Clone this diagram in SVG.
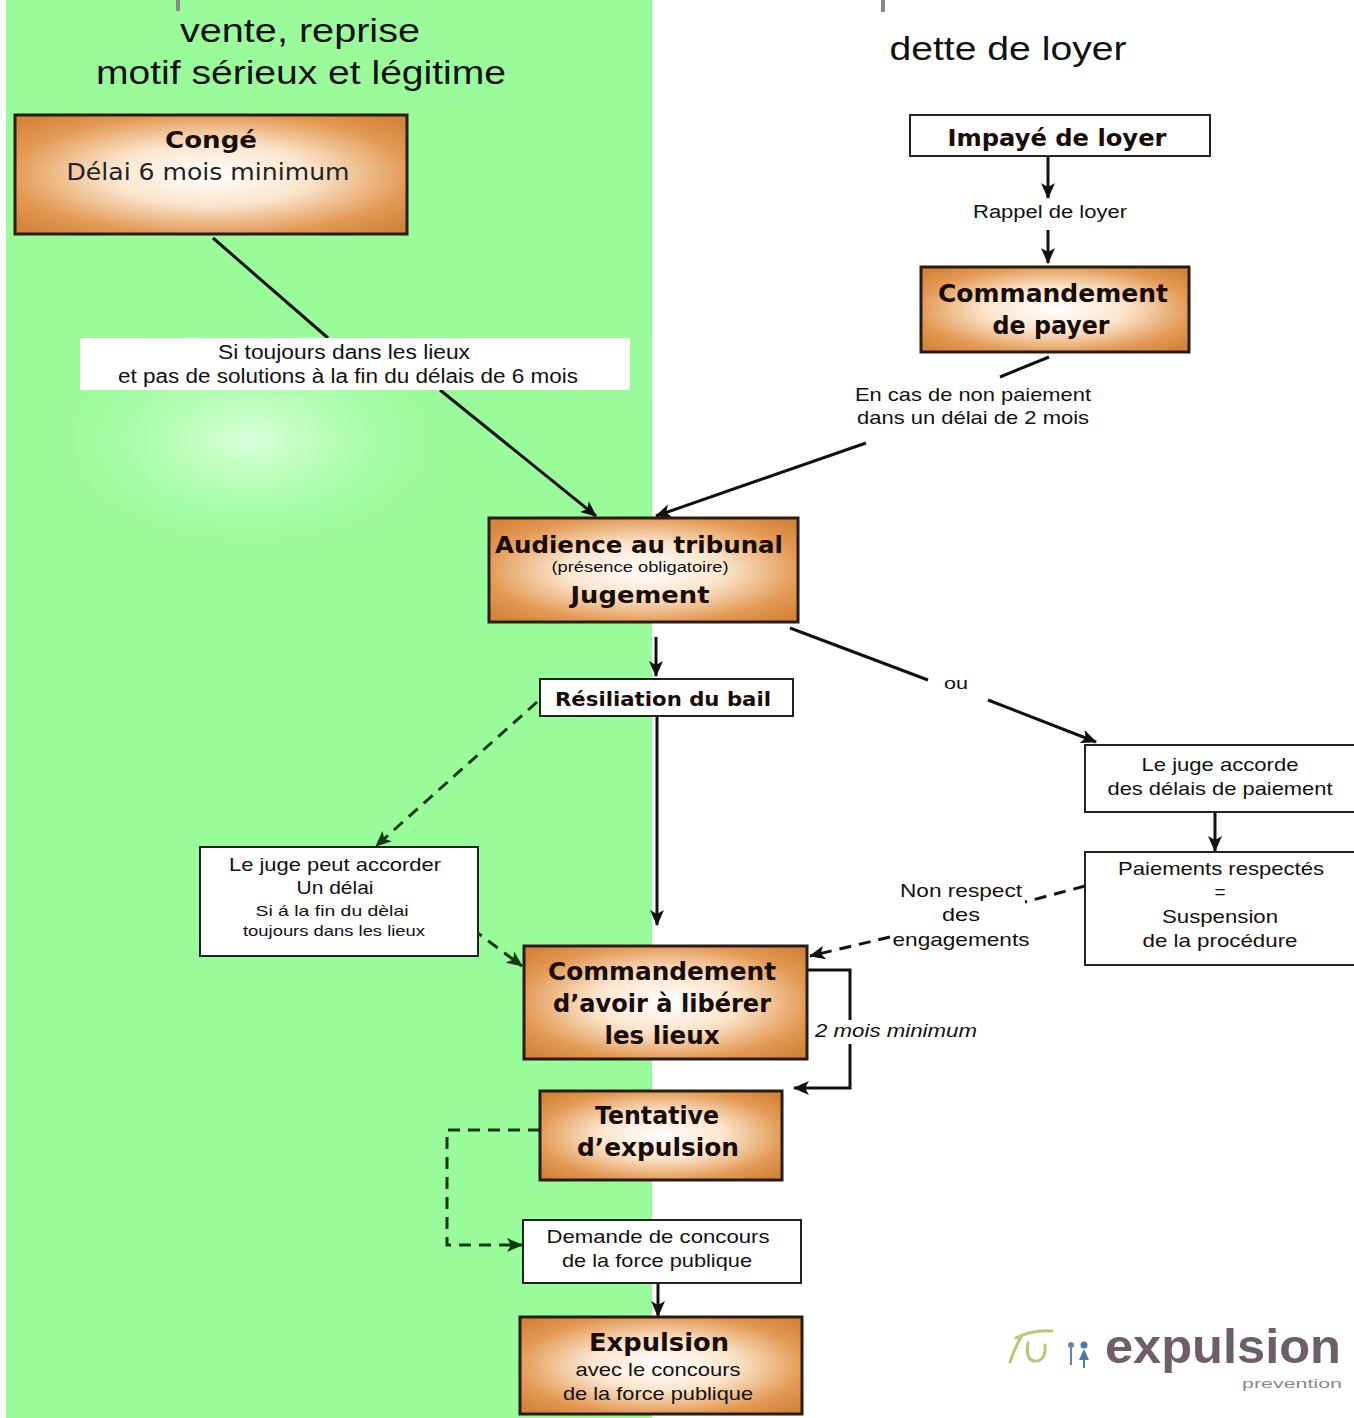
<svg xmlns="http://www.w3.org/2000/svg" width="1354" height="1418" viewBox="0 0 1354 1418">
<defs>
<radialGradient id="og" cx="50%" cy="50%" r="65%">
<stop offset="0" stop-color="#ffffff"/>
<stop offset="0.4" stop-color="#fbe4cc"/>
<stop offset="0.78" stop-color="#e39a55"/>
<stop offset="1" stop-color="#d4843a"/>
</radialGradient>
<radialGradient id="glow" cx="50%" cy="50%" r="50%">
<stop offset="0" stop-color="#dcffdc"/>
<stop offset="1" stop-color="#9afb9a" stop-opacity="0"/>
</radialGradient>
<marker id="ah" markerUnits="userSpaceOnUse" markerWidth="16" markerHeight="14" refX="15" refY="7" orient="auto">
<path d="M0,0 L16,7 L0,14 L4,7 Z" fill="#111"/>
</marker>
<marker id="ahg" markerUnits="userSpaceOnUse" markerWidth="16" markerHeight="14" refX="15" refY="7" orient="auto">
<path d="M0,0 L16,7 L0,14 L4,7 Z" fill="#123a12"/>
</marker>
<style>
.ob{fill:url(#og);stroke:#2a1c10;stroke-width:3}
.wb{fill:#fff;stroke:#222;stroke-width:2}
.bt{font-family:"DejaVu Sans",Verdana,sans-serif;font-weight:bold;fill:#1a0d08;text-anchor:middle}
.rt{font-family:"Liberation Sans",Arial,sans-serif;fill:#111;text-anchor:middle}
.vt{font-family:"DejaVu Sans",Verdana,sans-serif;fill:#222;text-anchor:middle}
.ln{fill:none;stroke:#111;stroke-width:3}
.dg{fill:none;stroke:#123a12;stroke-width:3;stroke-dasharray:12 8}
.dk{fill:none;stroke:#111;stroke-width:3;stroke-dasharray:12 8}
</style>
</defs>

<g id="background">
<rect x="0" y="0" width="1354" height="1418" fill="#fff"/>
<rect x="6" y="0" width="646" height="1418" fill="#9afb9a"/>
<ellipse cx="250" cy="440" rx="230" ry="130" fill="url(#glow)"/>
<rect x="176" y="0" width="4" height="11" fill="#888"/>
<rect x="881" y="0" width="4" height="12" fill="#888"/>
</g>

<g id="headers">
<text class="rt" x="300" y="42" font-size="34" textLength="240" lengthAdjust="spacingAndGlyphs">vente, reprise</text>
<text class="rt" x="301" y="84" font-size="34" textLength="410" lengthAdjust="spacingAndGlyphs">motif sérieux et légitime</text>
<text class="rt" x="1008" y="60" font-size="34" textLength="237" lengthAdjust="spacingAndGlyphs">dette de loyer</text>
</g>

<g id="connectors">
<line class="ln" x1="213" y1="238" x2="328" y2="338"/>
<line class="ln" x1="440" y1="390" x2="596" y2="516" marker-end="url(#ah)"/>
<line class="ln" x1="1048" y1="156" x2="1048" y2="198" marker-end="url(#ah)"/>
<line class="ln" x1="1048" y1="230" x2="1048" y2="263" marker-end="url(#ah)"/>
<line class="ln" x1="1049" y1="357" x2="1000" y2="377"/>
<line class="ln" x1="866" y1="443" x2="656" y2="516" marker-end="url(#ah)"/>
<line class="ln" x1="656" y1="637" x2="656" y2="676" marker-end="url(#ah)"/>
<line class="ln" x1="790" y1="628" x2="928" y2="680"/>
<line class="ln" x1="988" y1="700" x2="1096" y2="742" marker-end="url(#ah)"/>
<line class="ln" x1="1215" y1="812" x2="1215" y2="851" marker-end="url(#ah)"/>
<line class="dg" x1="537" y1="702" x2="376" y2="846" marker-end="url(#ahg)"/>
<line class="ln" x1="657" y1="716" x2="657" y2="925" marker-end="url(#ah)"/>
<line class="dg" x1="440" y1="905" x2="522" y2="966" marker-end="url(#ahg)"/>
<line class="dk" x1="1085" y1="886" x2="1025" y2="902"/>
<line class="dk" x1="890" y1="937" x2="810" y2="956" marker-end="url(#ah)"/>
<polyline class="ln" points="808,970 850,970 850,1088 794,1088" marker-end="url(#ah)"/>
<polyline class="dg" points="540,1130 447,1130 447,1245 522,1245" marker-end="url(#ahg)"/>
<line class="ln" x1="658" y1="1283" x2="658" y2="1316" marker-end="url(#ah)"/>
</g>

<g id="conge">
<rect class="ob" x="15" y="115" width="392" height="119"/>
<text class="bt" x="211" y="148" font-size="23" textLength="92" lengthAdjust="spacingAndGlyphs">Congé</text>
<text class="vt" x="208" y="180" font-size="23" textLength="283" lengthAdjust="spacingAndGlyphs">Délai 6 mois minimum</text>
</g>

<g id="label-6mois">
<rect x="80" y="338" width="550" height="52" fill="#fff"/>
<text class="rt" x="344" y="359" font-size="20" textLength="252" lengthAdjust="spacingAndGlyphs">Si toujours dans les lieux</text>
<text class="rt" x="348" y="383" font-size="20" textLength="460" lengthAdjust="spacingAndGlyphs">et pas de solutions à la fin du délais de 6 mois</text>
</g>

<g id="impaye">
<rect class="wb" x="910" y="115" width="300" height="41"/>
<text class="bt" x="1057" y="146" font-size="23" textLength="219" lengthAdjust="spacingAndGlyphs">Impayé de loyer</text>
</g>

<g id="rappel">
<text class="rt" x="1050" y="218" font-size="18" textLength="154" lengthAdjust="spacingAndGlyphs">Rappel de loyer</text>
</g>

<g id="cmd-payer">
<rect class="ob" x="921" y="267" width="268" height="85"/>
<text class="bt" x="1053" y="302" font-size="24" textLength="230" lengthAdjust="spacingAndGlyphs">Commandement</text>
<text class="bt" x="1051" y="334" font-size="24" textLength="117" lengthAdjust="spacingAndGlyphs">de payer</text>
</g>

<g id="label-2mois">
<text class="rt" x="973" y="401" font-size="19" textLength="236" lengthAdjust="spacingAndGlyphs">En cas de non paiement</text>
<text class="rt" x="973" y="424" font-size="19" textLength="232" lengthAdjust="spacingAndGlyphs">dans un délai de 2 mois</text>
</g>

<g id="audience">
<rect class="ob" x="489" y="518" width="309" height="104"/>
<text class="bt" x="639" y="553" font-size="23" textLength="288" lengthAdjust="spacingAndGlyphs">Audience au tribunal</text>
<text class="rt" x="640" y="572" font-size="14" textLength="177" lengthAdjust="spacingAndGlyphs">(présence obligatoire)</text>
<text class="bt" x="640" y="603" font-size="23" textLength="139" lengthAdjust="spacingAndGlyphs">Jugement</text>
</g>

<g id="resiliation">
<rect class="wb" x="540" y="679" width="253" height="37"/>
<text class="bt" x="663" y="706" font-size="20" textLength="216" lengthAdjust="spacingAndGlyphs">Résiliation du bail</text>
</g>

<g id="ou">
<text class="rt" x="956" y="689" font-size="17" textLength="24" lengthAdjust="spacingAndGlyphs">ou</text>
</g>

<g id="juge-accorde">
<rect class="wb" x="1085" y="745" width="272" height="67"/>
<text class="rt" x="1220" y="771" font-size="19" textLength="157" lengthAdjust="spacingAndGlyphs">Le juge accorde</text>
<text class="rt" x="1220" y="795" font-size="19" textLength="225" lengthAdjust="spacingAndGlyphs">des délais de paiement</text>
</g>

<g id="paiements">
<rect class="wb" x="1085" y="852" width="272" height="113"/>
<text class="rt" x="1221" y="875" font-size="19" textLength="206" lengthAdjust="spacingAndGlyphs">Paiements respectés</text>
<text class="rt" x="1220" y="898" font-size="19">=</text>
<text class="rt" x="1220" y="923" font-size="19" textLength="116" lengthAdjust="spacingAndGlyphs">Suspension</text>
<text class="rt" x="1220" y="947" font-size="19" textLength="155" lengthAdjust="spacingAndGlyphs">de la procédure</text>
</g>

<g id="non-respect">
<text class="rt" x="961" y="897" font-size="19" textLength="122" lengthAdjust="spacingAndGlyphs">Non respect</text>
<text class="rt" x="961" y="921" font-size="19" textLength="38" lengthAdjust="spacingAndGlyphs">des</text>
<text class="rt" x="961" y="946" font-size="19" textLength="137" lengthAdjust="spacingAndGlyphs">engagements</text>
</g>

<g id="juge-peut">
<rect class="wb" x="200" y="847" width="278" height="109"/>
<text class="rt" x="335" y="871" font-size="19" textLength="212" lengthAdjust="spacingAndGlyphs">Le juge peut accorder</text>
<text class="rt" x="335" y="894" font-size="19" textLength="77" lengthAdjust="spacingAndGlyphs">Un délai</text>
<text class="rt" x="332" y="916" font-size="15" textLength="153" lengthAdjust="spacingAndGlyphs">Si á la fin du dèlai</text>
<text class="rt" x="334" y="936" font-size="15" textLength="182" lengthAdjust="spacingAndGlyphs">toujours dans les lieux</text>
</g>

<g id="cmd-liberer">
<rect class="ob" x="524" y="946" width="283" height="113"/>
<text class="bt" x="662" y="980" font-size="24" textLength="228" lengthAdjust="spacingAndGlyphs">Commandement</text>
<text class="bt" x="662" y="1012" font-size="24" textLength="218" lengthAdjust="spacingAndGlyphs">d’avoir à libérer</text>
<text class="bt" x="662" y="1044" font-size="24" textLength="115" lengthAdjust="spacingAndGlyphs">les lieux</text>
</g>

<g id="label-2mois-min">
<rect x="812" y="1020" width="168" height="24" fill="#fff"/>
<text class="rt" x="896" y="1037" font-size="18" font-style="italic" textLength="162" lengthAdjust="spacingAndGlyphs">2 mois minimum</text>
</g>

<g id="tentative">
<rect class="ob" x="540" y="1091" width="242" height="89"/>
<text class="bt" x="657" y="1124" font-size="24" textLength="124" lengthAdjust="spacingAndGlyphs">Tentative</text>
<text class="bt" x="658" y="1156" font-size="24" textLength="162" lengthAdjust="spacingAndGlyphs">d’expulsion</text>
</g>

<g id="demande">
<rect class="wb" x="523" y="1220" width="278" height="63"/>
<text class="rt" x="658" y="1243" font-size="19" textLength="223" lengthAdjust="spacingAndGlyphs">Demande de concours</text>
<text class="rt" x="657" y="1267" font-size="19" textLength="190" lengthAdjust="spacingAndGlyphs">de la force publique</text>
</g>

<g id="expulsion">
<rect class="ob" x="520" y="1317" width="282" height="97"/>
<text class="bt" x="659" y="1351" font-size="24" textLength="140" lengthAdjust="spacingAndGlyphs">Expulsion</text>
<text class="rt" x="658" y="1376" font-size="19" textLength="165" lengthAdjust="spacingAndGlyphs">avec le concours</text>
<text class="rt" x="658" y="1400" font-size="19" textLength="190" lengthAdjust="spacingAndGlyphs">de la force publique</text>
</g>

<g id="logo">
<path d="M1010,1362 C1014,1350 1018,1342 1022,1335 M1016,1338 C1028,1332 1040,1330 1052,1331" fill="none" stroke="#b8c878" stroke-width="3" stroke-linecap="round"/>
<path d="M1028,1343 C1026,1356 1029,1362 1037,1361 C1044,1360 1046,1352 1045,1345" fill="none" stroke="#b8c878" stroke-width="3" stroke-linecap="round"/>
<circle cx="1071" cy="1345" r="3" fill="#5a8ab0"/>
<path d="M1071,1348 L1071,1365" stroke="#5a8ab0" stroke-width="2"/>
<circle cx="1084" cy="1345" r="3.5" fill="#4a78a8"/>
<path d="M1079,1360 L1084,1349 L1089,1360 Z" fill="#4a78a8"/>
<path d="M1084,1360 L1084,1368" stroke="#4a78a8" stroke-width="2"/>
<text x="1105" y="1363" font-family="Liberation Sans, Arial, sans-serif" font-weight="bold" font-size="48" fill="#6e5e6a" textLength="236" lengthAdjust="spacingAndGlyphs">expulsion</text>
<text x="1242" y="1388" font-family="Liberation Sans, Arial, sans-serif" font-size="12" fill="#8a8a8a" textLength="100" lengthAdjust="spacingAndGlyphs">prevention</text>
</g>
</svg>
